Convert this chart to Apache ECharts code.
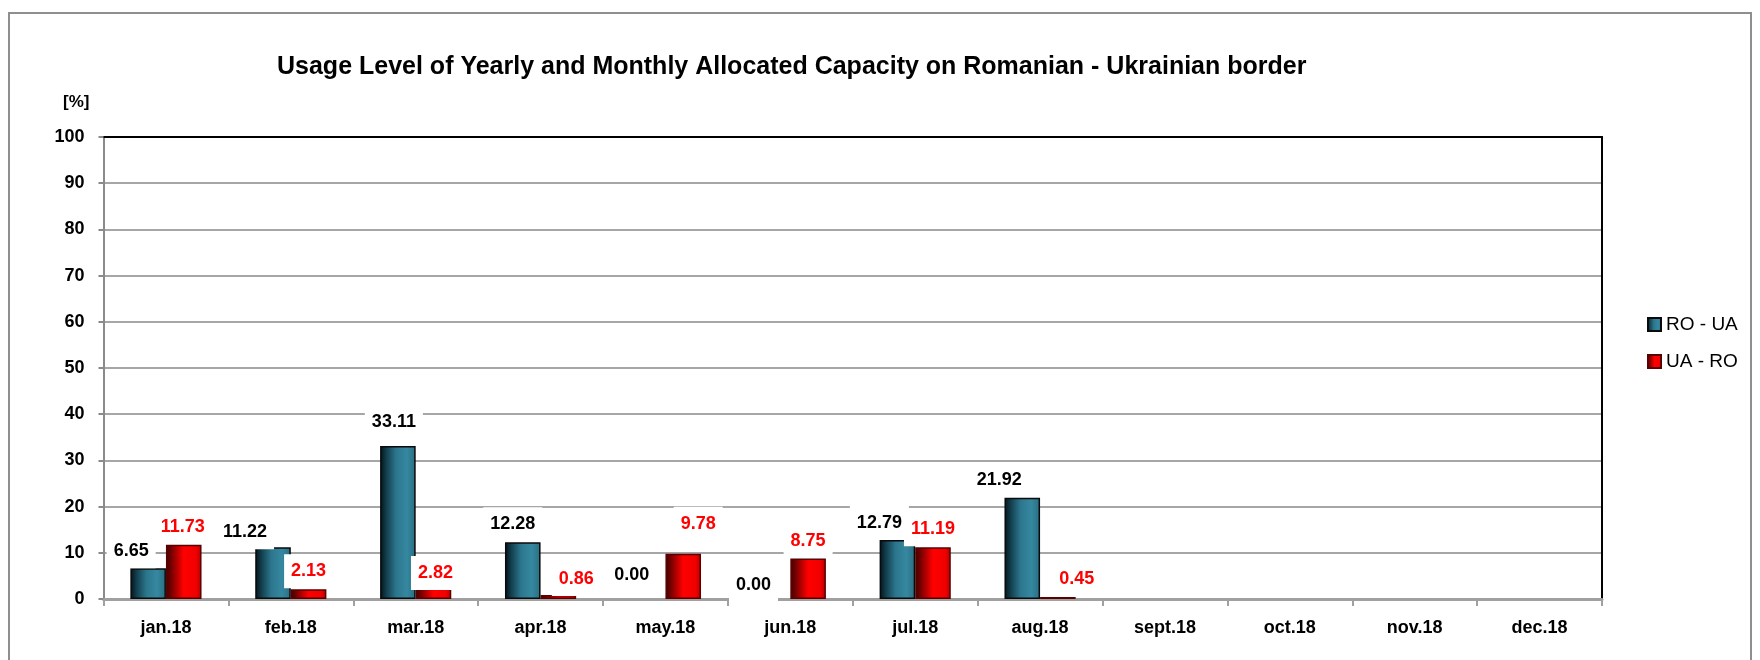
<!DOCTYPE html>
<html>
<head>
<meta charset="utf-8">
<title>Usage Level of Yearly and Monthly Allocated Capacity on Romanian - Ukrainian border</title>
<script src="https://cdn.jsdelivr.net/npm/echarts@6/dist/echarts.min.js"></script>
<style>
  html, body { margin: 0; padding: 0; background: #ffffff; }
  #chart { width: 1760px; height: 660px; }
</style>
</head>
<body>
<div id="chart"></div>
<script>
// Months of 2018
const months = ['jan.18', 'feb.18', 'mar.18', 'apr.18', 'may.18', 'jun.18',
                'jul.18', 'aug.18', 'sept.18', 'oct.18', 'nov.18', 'dec.18'];

// Usage level [%] per direction (no data yet from September)
const roUa = [6.65, 11.22, 33.11, 12.28, 0.00, 0.00, 12.79, 21.92, null, null, null, null];
const uaRo = [11.73, 2.13, 2.82, 0.86, 9.78, 8.75, 11.19, 0.45, null, null, null, null];

// Y axis scale
const yMin = 0;
const yMax = 100;
const yStep = 10;

// Small label nudges [dx, dy] so neighbouring value boxes do not collide
const roLabelNudge = [[-17, 0], [-28, 2], [-4, -7], [-10, -1], [-16, -7], [-19, 3], [-18, 0], [-23, -1]];
const uaLabelNudge = [[-1, -1], [0, -1], [2, 4], [18, 1], [15, -13], [0, -1], [0, -1], [19, -1]];

const FONT = '"Liberation Sans", Arial, sans-serif';

// Cylinder-like shading for the bars
const blueFill = {
  type: 'linear', x: 0, y: 0, x2: 1, y2: 0,
  colorStops: [
    { offset: 0, color: '#03121a' },
    { offset: 0.18, color: '#133f4e' },
    { offset: 0.45, color: '#2c768d' },
    { offset: 0.75, color: '#3588a0' },
    { offset: 1, color: '#296e83' }
  ]
};
const redFill = {
  type: 'linear', x: 0, y: 0, x2: 1, y2: 0,
  colorStops: [
    { offset: 0, color: '#3a0000' },
    { offset: 0.2, color: '#8a0000' },
    { offset: 0.5, color: '#ff0000' },
    { offset: 0.85, color: '#f00000' },
    { offset: 1, color: '#b00000' }
  ]
};

// Data items with their label nudge; empty (zero) bars get no outline
function withLabels(values, nudges) {
  return values.map(function (v, i) {
    if (v === null) return { value: null };
    const n = nudges[i] || [0, 0];
    const item = { value: v, label: { offset: n } };
    if (v === 0) item.itemStyle = { borderWidth: 0 };
    return item;
  });
}

const labelBase = {
  show: true,
  position: 'top',
  distance: 0,
  fontFamily: FONT,
  fontWeight: 'bold',
  fontSize: 18,
  backgroundColor: '#ffffff',
  padding: [8, 7],
  formatter: function (p) { return p.value == null ? '' : Number(p.value).toFixed(2); }
};

const chart = echarts.init(document.getElementById('chart'), null, { renderer: 'canvas' });

chart.setOption({
  animation: false,
  backgroundColor: '#ffffff',
  title: {
    text: 'Usage Level of Yearly and Monthly Allocated Capacity on Romanian - Ukrainian border',
    left: 272,
    top: 50,
    textStyle: { fontFamily: FONT, fontWeight: 'bold', fontSize: 25, color: '#000000' }
  },
  legend: {
    orient: 'vertical',
    left: 1642,
    top: 310,
    icon: 'rect',
    itemWidth: 13,
    itemHeight: 13,
    itemGap: 18,
    textStyle: { fontFamily: FONT, fontSize: 19, color: '#000000' },
    data: ['RO - UA', 'UA - RO']
  },
  graphic: [
    {
      type: 'rect',
      shape: { x: 9, y: 13, width: 1742, height: 670 },
      style: { fill: 'none', stroke: '#8f8f8f', lineWidth: 2 },
      silent: true
    },
    {
      type: 'text',
      left: 63,
      top: 94,
      style: { text: '[%]', font: 'bold 17px ' + FONT, fill: '#000000' }
    }
  ],
  grid: { left: 103.5, right: 158, top: 137, bottom: 61, containLabel: false },
  xAxis: [
    {
      type: 'category',
      data: months,
      axisLine: { onZero: false, lineStyle: { color: '#a0a0a0', width: 3 } },
      axisTick: { show: true, length: 7, interval: 0, lineStyle: { color: '#a0a0a0', width: 2 } },
      axisLabel: { interval: 0, margin: 20, fontFamily: FONT, fontWeight: 'bold', fontSize: 18, color: '#000000' },
      splitLine: { show: false }
    },
    {
      type: 'category',
      position: 'top',
      data: months,
      axisLine: { onZero: false, lineStyle: { color: '#000000', width: 2 } },
      axisTick: { show: false },
      axisLabel: { show: false },
      splitLine: { show: false }
    }
  ],
  yAxis: [
    {
      type: 'value',
      min: yMin,
      max: yMax,
      interval: yStep,
      axisLine: { show: true, onZero: false, lineStyle: { color: '#8a8a8a', width: 2 } },
      axisTick: { show: true, length: 5, lineStyle: { color: '#8a8a8a', width: 2 } },
      axisLabel: { margin: 19, fontFamily: FONT, fontWeight: 'bold', fontSize: 18, color: '#000000' },
      splitLine: { show: true, lineStyle: { color: '#a6a6a6', width: 2 } }
    },
    {
      type: 'value',
      position: 'right',
      min: yMin,
      max: yMax,
      interval: yStep,
      axisLine: { show: true, onZero: false, lineStyle: { color: '#000000', width: 2 } },
      axisTick: { show: false },
      axisLabel: { show: false },
      splitLine: { show: false }
    }
  ],
  series: [
    {
      name: 'RO - UA',
      type: 'bar',
      xAxisIndex: 0,
      yAxisIndex: 0,
      barCategoryGap: '43%',
      barGap: '0%',
      data: withLabels(roUa, roLabelNudge),
      itemStyle: { color: blueFill, borderColor: '#0a0a0a', borderWidth: 1.5 },
      label: Object.assign({}, labelBase, { color: '#000000' })
    },
    {
      name: 'UA - RO',
      type: 'bar',
      xAxisIndex: 0,
      yAxisIndex: 0,
      barCategoryGap: '43%',
      barGap: '0%',
      data: withLabels(uaRo, uaLabelNudge),
      itemStyle: { color: redFill, borderColor: '#5a0000', borderWidth: 1.5 },
      label: Object.assign({}, labelBase, { color: '#ff0000' })
    }
  ]
});
</script>
</body>
</html>
